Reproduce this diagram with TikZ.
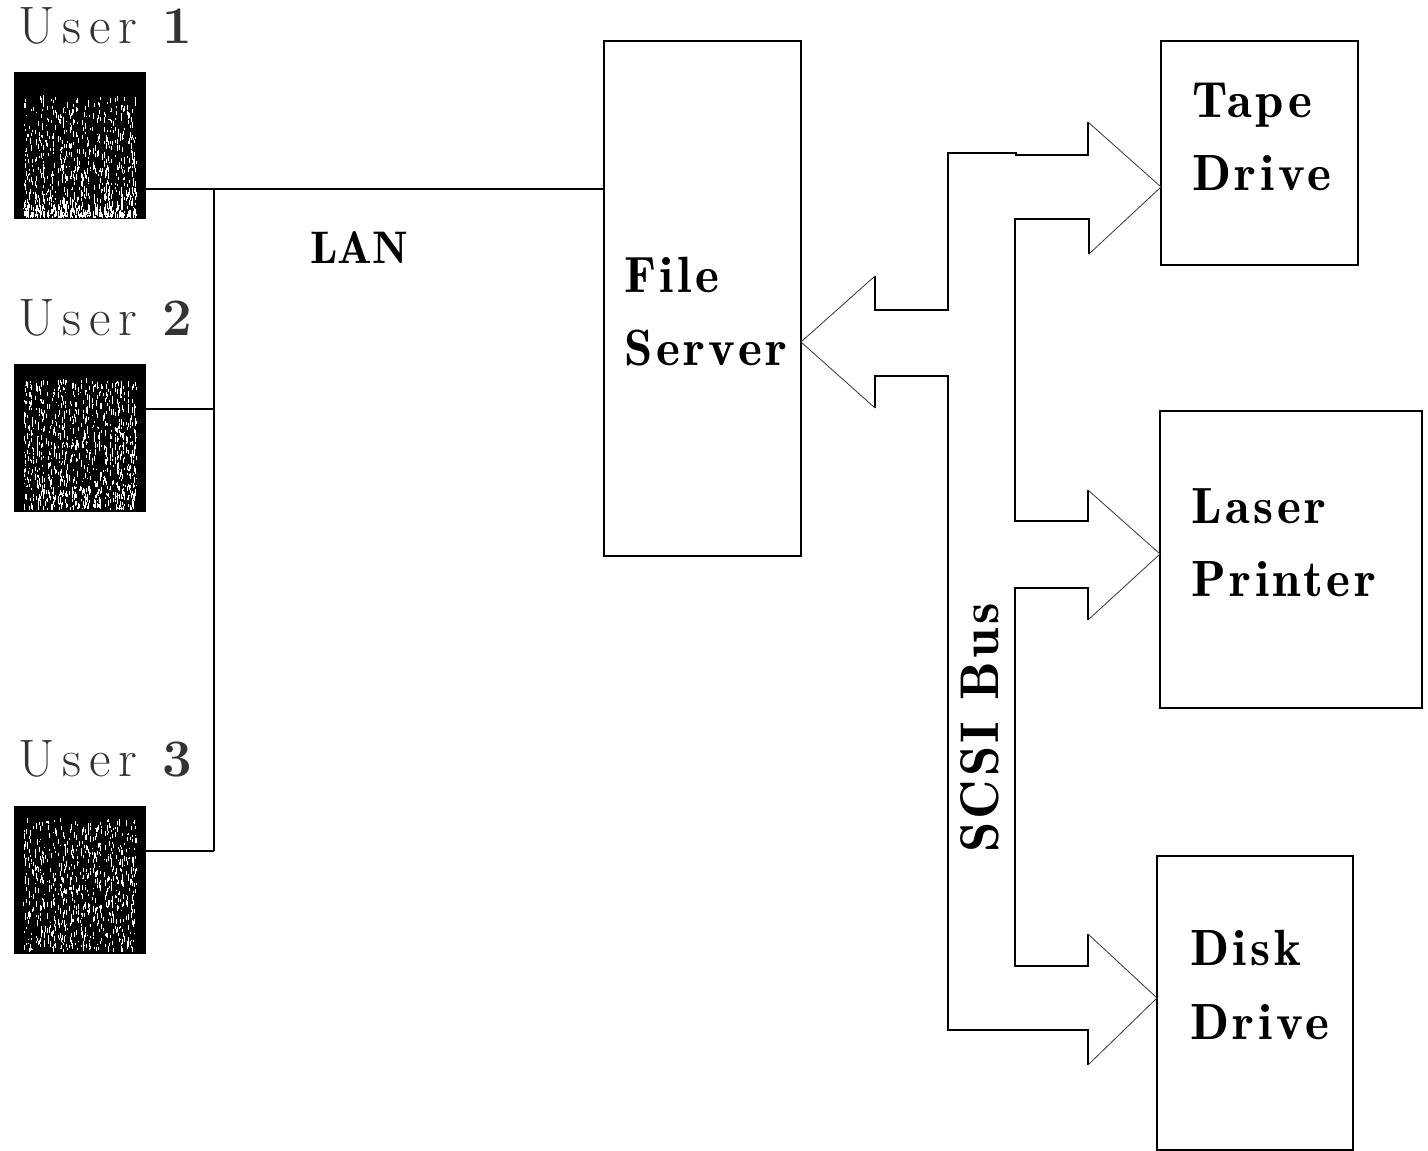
\documentclass[tikz,border=0pt]{standalone}
\usepackage{fontspec}
\usepackage{tikz}
\usetikzlibrary{positioning,calc}
\newfontfamily\userfont[LetterSpace=15]{Latin Modern Roman}
\newfontfamily\devfont[LetterSpace=7]{Latin Modern Roman Demi}
\newfontfamily\busfont[LetterSpace=6]{Latin Modern Roman Demi}

\tikzset{
  wire/.style={line width=1pt, black},
  barb/.style={line width=0.45pt, black!80},
  devbox/.style={draw, line width=1pt, inner sep=0pt, outer sep=0pt},
  userbox/.style={fill=black, inner sep=0pt, outer sep=0pt, minimum width=2.64cm, minimum height=2.95cm},
  userlabel/.style={anchor=base west, inner sep=0pt, text=black!80, font=\userfont\fontsize{30}{35}\selectfont},
  devlabel/.style={anchor=base west, inner sep=0pt, font=\devfont\fontsize{29}{35}\selectfont},
}

% white flecks over a user's black square
\newcommand{\userspecks}[4]{
\begin{scope}[shift={(#1.north west)}]
\foreach \k in {1,...,#2}{
  \pgfmathsetmacro\sx{9+(floor(rnd*10)+0.5)*11.4+(rnd-0.5)*10}
  \pgfmathsetmacro\sy{146-(146-#3)*rnd^#4}
  \pgfmathsetmacro\sl{1+rnd*5}
  \draw[white, line width=0.45pt] (\sx,\sy) -- (\sx,\sy-\sl);
}
\end{scope}
}

\begin{document}
\begin{tikzpicture}[x=0.02cm,y=-0.02cm]
\useasboundingbox (0,0) rectangle (1428,1151);
\pgfmathsetseed{4711}

\node[userlabel] (lab1) at (18,44) {User\hspace{14pt}{\bfseries 1}};
\node[userlabel] (lab2) at (18,336) {User\hspace{14pt}{\bfseries 2}};
\node[userlabel] (lab3) at (18,777) {User\hspace{14pt}{\bfseries 3}};

\node[userbox] (user1) at (80,145.5) {};
\node[userbox] (user2) at (80,438) {};
\node[userbox] (user3) at (80,880) {};
\userspecks{user1}{900}{28}{2.0}
\userspecks{user2}{950}{18}{1.3}
\userspecks{user3}{750}{15}{1.1}

\node[devbox, minimum width=3.94cm, minimum height=10.3cm] (server) at (702.5,298.5) {};
\node[devbox, minimum width=3.94cm, minimum height=4.48cm] (tape) at (1259.5,153) {};
\node[devbox, minimum width=5.24cm, minimum height=5.94cm] (laser) at (1291,559.5) {};
\node[devbox, minimum width=3.92cm, minimum height=5.88cm] (disk) at (1255,1003) {};

\node[devlabel] (filetxt) at (624,293) {File};
\node[devlabel] (servertxt) at (624,366) {Server};
\node[devlabel] (tapetxt) at (1192,118) {Tape};
\node[devlabel] (drivetxt) at (1192,191) {Drive};
\node[devlabel] (lasertxt) at (1191,524) {Laser};
\node[devlabel] (printertxt) at (1191,597) {Printer};
\node[devlabel] (disktxt) at (1190,966) {Disk};
\node[devlabel] (drivetxtb) at (1190,1040) {Drive};
\node[inner sep=0pt, anchor=base west, font=\fontspec{Latin Modern Roman Demi}\fontsize{26}{30}\selectfont] (lantxt) at (310,264) {LAN};
\node[inner sep=0pt, rotate=90, anchor=base, font=\busfont\fontsize{31}{30}\selectfont] (scsitxt) at (998,728) {SCSI Bus};

% LAN
\coordinate (lan) at (214,189);
\coordinate (lanb) at (214,409);
\coordinate (lanc) at (214,851);
\draw[wire] (user1.east |- lan) -- (server.west |- lan);
\draw[wire] (lan) -- (lanc);
\draw[wire] (user2.east |- lanb) -- (lanb);
\draw[wire] (user3.east |- lanc) -- (lanc);

% SCSI bus outline
\draw[wire] (875,276) -- (875,310) -- (948,310) -- (948,153) -- (1016,153) -- (1016,155) -- (1088,155) -- (1088,122);
\draw[wire] (1089,254) -- (1089,219) -- (1015,219) -- (1015,521) -- (1088,521) -- (1088,490);
\draw[wire] (1088,620) -- (1088,588) -- (1015,588) -- (1015,966) -- (1088,966) -- (1088,934);
\draw[wire] (1088,1065) -- (1088,1030) -- (948,1030) -- (948,376) -- (875,376) -- (875,408);
\draw[barb] (875,276) -- (server.east |- 0,342) -- (875,408);
\draw[barb] (1088,122) -- (tape.west |- 0,187) -- (1089,254);
\draw[barb] (1088,490) -- (laser.west |- 0,554) -- (1088,620);
\draw[barb] (1088,934) -- (disk.west |- 0,998) -- (1088,1065);
\end{tikzpicture}
\end{document}
